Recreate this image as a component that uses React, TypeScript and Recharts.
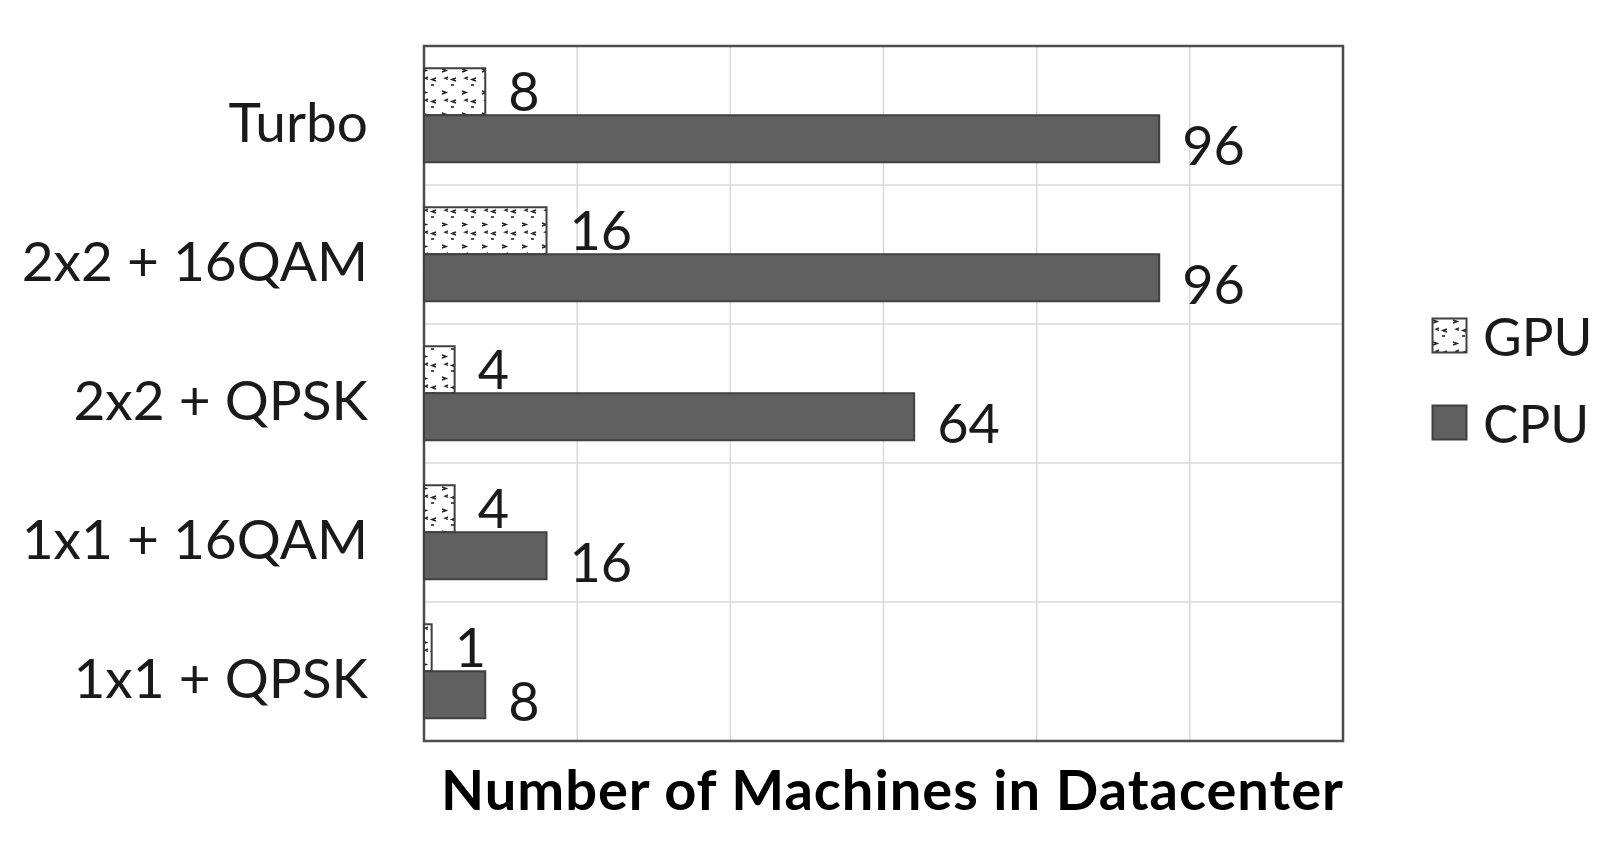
import React from 'react';
import {
  BarChart,
  Bar,
  XAxis,
  YAxis,
  CartesianGrid,
  ReferenceArea,
  Legend,
  LabelList,
} from 'recharts';

const categories = ['Turbo', '2x2 + 16QAM', '2x2 + QPSK', '1x1 + 16QAM', '1x1 + QPSK'];
const gpuMachines = [8, 16, 4, 4, 1];
const cpuMachines = [96, 96, 64, 16, 8];
const xTicks = [0, 20, 40, 60, 80, 100, 120];
const legendOrder = ['GPU', 'CPU'];

const FONT = 'Lato, "Open Sans", sans-serif';
const TEXT = '#1a1a1a';
const X_MAX = xTicks[xTicks.length - 1];

const data = categories.map((name, i) => ({
  name,
  gpu: gpuMachines[i],
  cpu: cpuMachines[i],
}));

// horizontal grid lines sit on the borders between category bands
const bandBorders = ({ offset }: any) =>
  categories.slice(1).map((_, i) => offset.top + (offset.height * (i + 1)) / categories.length);

const tickLines = ({ offset }: any) =>
  xTicks.slice(1, -1).map((t) => offset.left + (offset.width * t) / X_MAX);

function CategoryTick(props: any) {
  const { x, y, payload } = props;
  return (
    <text
      x={x - 48}
      y={y + 7}
      dy="0.355em"
      textAnchor="end"
      fontFamily={FONT}
      fontSize={55}
      fill={TEXT}
    >
      {payload.value}
    </text>
  );
}

function valueLabel(shiftY: number) {
  return (props: any) => {
    const { x, y, width, height, value } = props;
    return (
      <text
        x={x + width + 23}
        y={y + height / 2 + shiftY}
        dy="0.355em"
        fontFamily={FONT}
        fontSize={54}
        fill={TEXT}
      >
        {value}
      </text>
    );
  };
}

function AxisTitle(props: any) {
  const { viewBox } = props;
  const { x, y, width } = viewBox;
  return (
    <text
      x={x + width / 2 + 9}
      y={y + 49}
      dy="0.355em"
      textAnchor="middle"
      fontFamily={FONT}
      fontWeight={700}
      fontSize={56}
      letterSpacing={1}
      fill="#000"
    >
      Number of Machines in Datacenter
    </text>
  );
}

function LegendBox(props: any) {
  const items = [...(props.payload || [])].sort(
    (a: any, b: any) => legendOrder.indexOf(a.value) - legendOrder.indexOf(b.value)
  );
  return (
    <div style={{ fontFamily: FONT, fontSize: 53, color: TEXT, lineHeight: '86px' }}>
      {items.map((item: any) => (
        <div key={item.value} style={{ display: 'flex', alignItems: 'center', height: 87 }}>
          <svg width={38} height={38} style={{ marginRight: 14 }}>
            <rect
              x={1.5}
              y={1.5}
              width={34}
              height={34}
              fill={item.color}
              stroke="#404040"
              strokeWidth={2}
            />
          </svg>
          <span>{item.value}</span>
        </div>
      ))}
    </div>
  );
}

export default function App() {
  return (
    <div style={{ position: 'absolute', left: 0, top: 0, background: '#fff' }}>
      <BarChart
        width={1599}
        height={848}
        data={data}
        layout="vertical"
        barCategoryGap="16%"
        barGap={0}
        margin={{ top: 46, right: 256, bottom: 0, left: 0 }}
      >
        <defs>
          <pattern id="gpuDots" width="20" height="22" patternUnits="userSpaceOnUse">
            <rect width="20" height="22" fill="#ffffff" />
            <path d="M2 3 l4 1.5 l-4 1.5" stroke="#222" strokeWidth="1.6" fill="none" />
            <path d="M16 12 l-4 1.5 l4 1.5" stroke="#222" strokeWidth="1.6" fill="none" />
            <path d="M8 11 l-3 1.2 l3 1.2" stroke="#333" strokeWidth="1.4" fill="none" />
            <path d="M11 19 l3 0" stroke="#222" strokeWidth="1.6" />
          </pattern>
        </defs>
        <CartesianGrid
          stroke="#d9d9d9"
          strokeWidth={1.5}
          horizontalCoordinatesGenerator={bandBorders}
          verticalCoordinatesGenerator={tickLines}
        />
        <XAxis
          type="number"
          domain={[0, X_MAX]}
          ticks={xTicks}
          tick={false}
          tickLine={false}
          axisLine={false}
          height={107}
          label={<AxisTitle />}
        />
        <YAxis
          type="category"
          dataKey="name"
          width={424}
          tickLine={false}
          axisLine={false}
          tick={<CategoryTick />}
        />
        <Bar
          dataKey="gpu"
          name="GPU"
          fill="url(#gpuDots)"
          stroke="#404040"
          strokeWidth={2}
          isAnimationActive={false}
        >
          <LabelList dataKey="gpu" content={valueLabel(0)} />
        </Bar>
        <Bar
          dataKey="cpu"
          name="CPU"
          fill="#606060"
          stroke="#404040"
          strokeWidth={2}
          isAnimationActive={false}
        >
          <LabelList dataKey="cpu" content={valueLabel(7)} />
        </Bar>
        <ReferenceArea
          x1={0}
          x2={X_MAX}
          fill="none"
          fillOpacity={0}
          stroke="#4d4d4d"
          strokeWidth={2.5}
        />
        <Legend
          layout="horizontal"
          verticalAlign="middle"
          content={<LegendBox />}
          wrapperStyle={{ left: 1431, top: 292, width: 'auto' }}
        />
      </BarChart>
    </div>
  );
}
